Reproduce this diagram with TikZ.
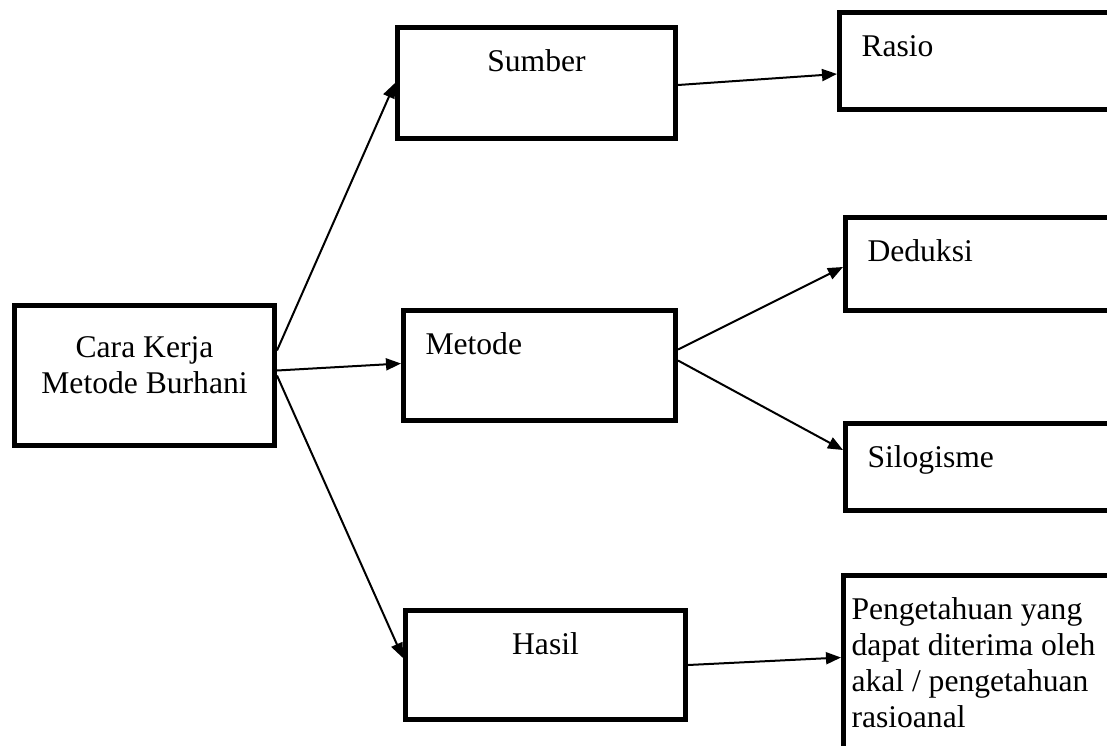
\documentclass[tikz,border=0pt]{standalone}
\usepackage{fontspec}
\setmainfont{Liberation Serif}
\usepackage{tikz}
\usetikzlibrary{shapes,arrows.meta}
\tikzstyle{block} = [rectangle, draw, line width=5pt, anchor=north west, inner xsep=22pt, inner ysep=19pt]
\tikzstyle{line} = [draw, line width=2pt, -{Triangle[length=15pt, width=12pt]}]
% top aligned text inside a box: width, height, text
\newcommand{\boxtxt}[3]{\parbox[t][#2][t]{#1}{#3}}

\begin{document}
\begin{tikzpicture}[x=1pt, y=-1pt, font=\fontsize{31.6}{36}\selectfont]

\useasboundingbox (0, 0) rectangle (1107, 745);
\clip (0, 0) rectangle (1107, 745);

% root
\node [block, inner ysep=27pt] at (12, 303) (cara) {\boxtxt{216pt}{86pt}{\centering\strut Cara Kerja\\ Metode Burhani}};

% middle column
\node [block] at (395, 25) (sumber) {\boxtxt{234pt}{73pt}{\centering\strut Sumber}};
\node [block] at (401, 308) (metode) {\boxtxt{228pt}{72pt}{\raggedright\strut Metode}};
\node [block] at (403, 608) (hasil) {\boxtxt{236pt}{71pt}{\centering\strut Hasil}};

\path [line] ([yshift=25pt]cara.east) to (sumber.west);
\path [line] ([yshift=5pt]cara.east) to ([yshift=2pt]metode.west);
\path [line] (cara.east) to ([yshift=7pt]hasil.west);

% right column
\node [block] at (837, 10) (rasio) {\boxtxt{256pt}{59pt}{\raggedright\strut Rasio}};
\node [block] at (843, 215) (deduksi) {\boxtxt{256pt}{55pt}{\raggedright\strut Deduksi}};
\node [block] at (843, 421) (silogisme) {\boxtxt{256pt}{49pt}{\raggedright\strut Silogisme}};
\node [block, inner xsep=8pt] at (841, 573) (pengetahuan) {\boxtxt{284pt}{152pt}{\raggedright\strut Pengetahuan yang\\ dapat diterima oleh\\ akal / pengetahuan\\ rasioanal}};

\path [line] ([yshift=-2pt]sumber.east) to ([yshift=-13pt]rasio.west);
\path [line] ([yshift=16pt]metode.east) to ([yshift=-3pt]deduksi.west);
\path [line] ([yshift=5pt]metode.east) to ([yshift=17pt]silogisme.west);
\path [line] (hasil.east) to ([yshift=13pt]pengetahuan.west);

\end{tikzpicture}
\end{document}
